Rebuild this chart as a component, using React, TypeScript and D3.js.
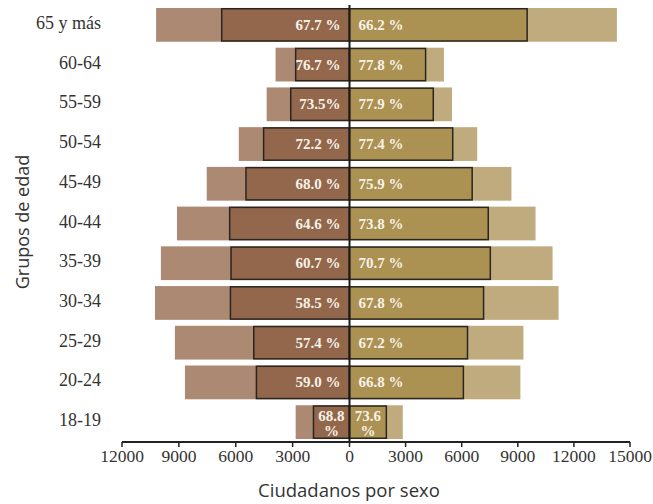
import React from "react";
import * as d3 from "d3";

const ageGroups = ["65 y más", "60-64", "55-59", "50-54", "45-49", "40-44", "35-39", "30-34", "25-29", "20-24", "18-19"];
const maleTotal = [10200, 3900, 4370, 5840, 7530, 9100, 9950, 10260, 9210, 8680, 2840];
const maleVoters = [6740, 2840, 3100, 4530, 5460, 6320, 6250, 6280, 5050, 4910, 1900];
const femaleTotal = [14300, 5050, 5480, 6830, 8660, 9950, 10860, 11180, 9300, 9140, 2850];
const femaleVoters = [9500, 4070, 4480, 5520, 6560, 7420, 7530, 7170, 6310, 6090, 1970];
const malePct = ["67.7 %", "76.7 %", "73.5%", "72.2 %", "68.0 %", "64.6 %", "60.7 %", "58.5 %", "57.4 %", "59.0 %", "68.8 %"];
const femalePct = ["66.2 %", "77.8 %", "77.9 %", "77.4 %", "75.9 %", "73.8 %", "70.7 %", "67.8 %", "67.2 %", "66.8 %", "73.6 %"];
const tickValues = [-12000, -9000, -6000, -3000, 0, 3000, 6000, 9000, 12000, 15000];

const W = 653;
const H = 504;

export default function App() {
  const x = d3.scaleLinear().domain([-12000, 0, 15000]).range([122, 349.5, 630]);
  const y = d3.scaleBand<string>().domain(ageGroups).range([5, 442]).paddingInner(0.15).paddingOuter(0.075);
  const bw = y.bandwidth();
  const x0 = x(0);

  const colors = {
    maleLight: "#ac8972",
    maleDark: "#93674c",
    femaleDark: "#ab9152",
    femaleLight: "#c0ab7e",
    stroke: "#2a2520",
  };
  const serif = "'Liberation Serif', 'Times New Roman', serif";
  const sans = "'Open Sans', 'Noto Sans', sans-serif";
  const lblSize = 15;

  return (
    <svg width={W} height={H} style={{ position: "absolute", left: 0, top: 0, background: "#fff" }}>
      {ageGroups.map((g, i) => {
        const y0 = y(g)!;
        const cy = y0 + bw / 2;
        const mL = x(-maleTotal[i]);
        const mD = x(-maleVoters[i]);
        const fL = x(femaleTotal[i]);
        const fD = x(femaleVoters[i]);
        const narrowM = x0 - mD < 45;
        const narrowF = fD - x0 < 45;
        const mParts = malePct[i].replace(" ", "").split("%");
        const fParts = femalePct[i].replace(" ", "").split("%");
        return (
          <g key={g}>
            <rect x={mL} y={y0} width={x0 - mL} height={bw} fill={colors.maleLight} />
            <rect x={x0} y={y0} width={fL - x0} height={bw} fill={colors.femaleLight} />
            <rect x={mD} y={y0 + 0.75} width={x0 - mD} height={bw - 1.5} fill={colors.maleDark} stroke={colors.stroke} strokeWidth={1.5} />
            <rect x={x0} y={y0 + 0.75} width={fD - x0} height={bw - 1.5} fill={colors.femaleDark} stroke={colors.stroke} strokeWidth={1.5} />
            <text x={101} y={cy + 4} textAnchor="end" fontFamily={serif} fontSize={18} fill="#333">{g}</text>
            {narrowM ? (
              <text x={(mD + x0) / 2} textAnchor="middle" fontFamily={serif} fontWeight="bold" fontSize={lblSize} fill="#f7f2e8">
                <tspan x={(mD + x0) / 2} y={cy - 1}>{mParts[0]}</tspan>
                <tspan x={(mD + x0) / 2} y={cy + 14}>%</tspan>
              </text>
            ) : (
              <text x={x0 - 9} y={cy + 5} textAnchor="end" fontFamily={serif} fontWeight="bold" fontSize={lblSize} fill="#f7f2e8">{malePct[i]}</text>
            )}
            {narrowF ? (
              <text x={(fD + x0) / 2} textAnchor="middle" fontFamily={serif} fontWeight="bold" fontSize={lblSize} fill="#f7f2e8">
                <tspan x={(fD + x0) / 2} y={cy - 1}>{fParts[0]}</tspan>
                <tspan x={(fD + x0) / 2} y={cy + 14}>%</tspan>
              </text>
            ) : (
              <text x={x0 + 9} y={cy + 5} textAnchor="start" fontFamily={serif} fontWeight="bold" fontSize={lblSize} fill="#f7f2e8">{femalePct[i]}</text>
            )}
          </g>
        );
      })}
      <line x1={x0} x2={x0} y1={5} y2={442} stroke="#1a1a1a" strokeWidth={2} />
      <line x1={x(-12000)} x2={x(15000)} y1={442} y2={442} stroke="#222" strokeWidth={2} />
      {tickValues.map((t) => (
        <g key={t}>
          <line x1={x(t)} x2={x(t)} y1={442} y2={447} stroke="#222" strokeWidth={1.5} />
          <text x={x(t)} y={462} textAnchor="middle" fontFamily={serif} fontSize={17.5} fill="#333">{Math.abs(t)}</text>
        </g>
      ))}
      <text x={349} y={497} textAnchor="middle" fontFamily={sans} fontSize={18.5} fill="#333">Ciudadanos por sexo</text>
      <text transform={`translate(29,222) rotate(-90)`} textAnchor="middle" fontFamily={sans} fontSize={18} fill="#333">Grupos de edad</text>
    </svg>
  );
}
